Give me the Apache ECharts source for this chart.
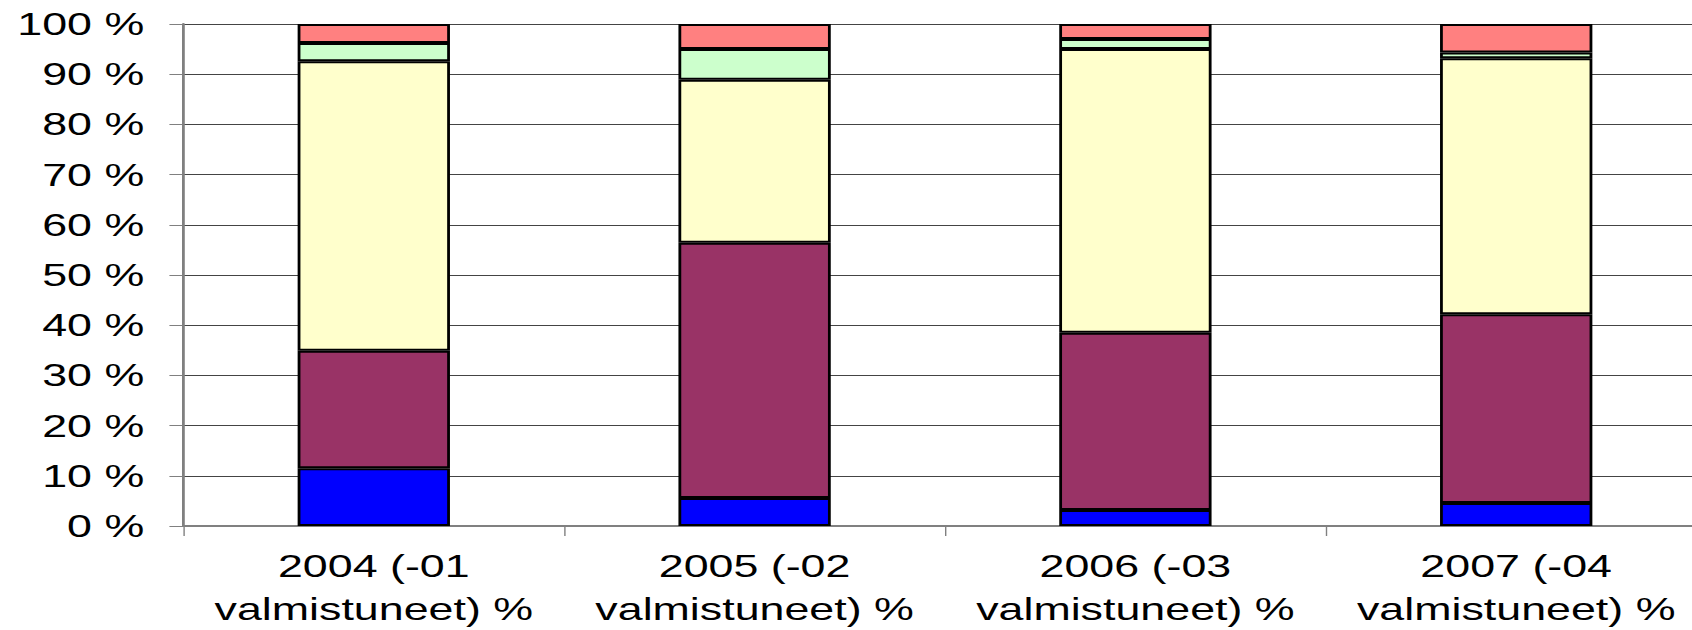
<!DOCTYPE html>
<html>
<head>
<meta charset="utf-8">
<script src="https://cdn.jsdelivr.net/npm/echarts@6/dist/echarts.min.js"></script>
<style>
html,body{margin:0;padding:0;background:#fff;overflow:hidden;width:1692px;height:630px}
#chart{width:1240px;height:630px;transform:scaleX(1.4);transform-origin:0 0}
</style>
</head>
<body>
<div id="chart"></div>
<script>
const categories = ['2004 (-01\nvalmistuneet) %', '2005 (-02\nvalmistuneet) %', '2006 (-03\nvalmistuneet) %', '2007 (-04\nvalmistuneet) %'];
const seriesNames = ['Sarja 1', 'Sarja 2', 'Sarja 3', 'Sarja 4', 'Sarja 5'];
const s1 = [11.5, 5.6, 3.2, 4.6];
const s2 = [23.4, 50.8, 35.3, 37.6];
const s3 = [57.7, 32.5, 56.5, 51.0];
const s4 = [3.6, 6.1, 2.0, 1.1];
const s5 = [3.8, 5.0, 3.0, 5.7];
const yTicks = [0, 10, 20, 30, 40, 50, 60, 70, 80, 90, 100];

const colors = ['#0000FF', '#993366', '#FFFFCC', '#CCFFCC', '#FF8080'];
const values = [s1, s2, s3, s4, s5];

const chart = echarts.init(document.getElementById('chart'), null, {renderer: 'svg'});
chart.setOption({
  animation: false,
  backgroundColor: '#fff',
  grid: {left: 131, right: 21, top: 24, bottom: 95, containLabel: false},
  xAxis: {
    type: 'category',
    data: categories,
    axisLine: {show: true, lineStyle: {color: '#808080', width: 2}},
    axisTick: {show: true, length: 10, lineStyle: {color: '#808080', width: 1}},
    axisLabel: {
      color: '#000', fontFamily: 'Liberation Sans, Arial, sans-serif', fontSize: 32,
      lineHeight: 43, margin: 18, interval: 0
    }
  },
  yAxis: {
    type: 'value',
    min: yTicks[0], max: yTicks[yTicks.length - 1], interval: 10,
    axisLine: {show: true, lineStyle: {color: '#808080', width: 2}},
    axisTick: {show: true, length: 10, lineStyle: {color: '#808080', width: 1}},
    axisLabel: {
      color: '#000', fontFamily: 'Liberation Sans, Arial, sans-serif', fontSize: 32,
      margin: 28, formatter: '{value} %'
    },
    splitLine: {show: true, lineStyle: {color: '#444', width: 1}}
  },
  series: values.map((v, i) => ({
    name: seriesNames[i],
    type: 'bar',
    stack: 'total',
    data: v,
    barWidth: '40%',
    itemStyle: {color: colors[i], borderColor: '#000', borderWidth: 2}
  }))
});
</script>
</body>
</html>
